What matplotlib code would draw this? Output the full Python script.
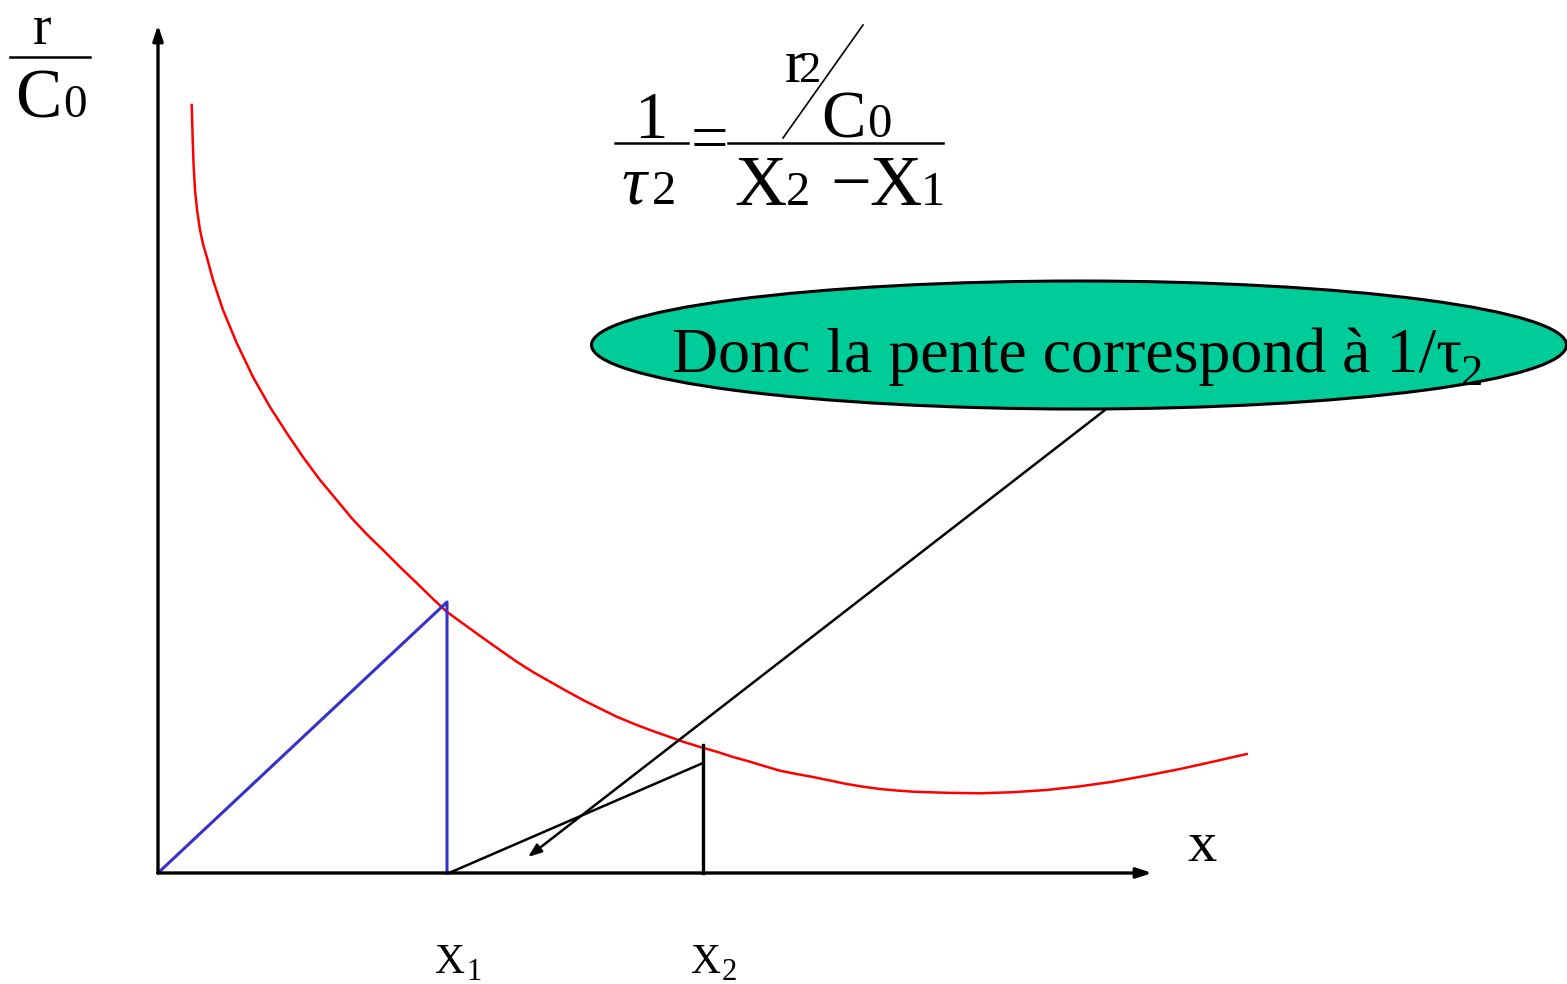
import matplotlib
matplotlib.use("Agg")
import matplotlib.pyplot as plt
from matplotlib.patches import Ellipse

W, H = 1567, 984

# red curve r/C0 vs X (px)
curve_x = [191.7, 192.2, 192.7, 193.6, 195, 197.2, 200, 203, 206.7, 213, 223, 236.7, 253, 270,
           286.7, 303, 320, 336.7, 352, 367, 383, 400, 416.7, 431.5, 446.7, 465, 483, 500,
           516.7, 533, 550, 566.5, 583, 600, 616.7, 633, 650, 667, 683, 700, 716.7, 733,
           750, 765, 780, 796.5, 813, 830, 846.7, 863, 880, 896.5, 913, 946.7, 980, 1013,
           1046.7, 1080, 1113, 1146.5, 1180, 1213, 1246.7]
curve_y = [105, 122, 140, 165, 190, 211, 230, 244, 256.7, 280, 310, 343, 377, 407,
           433, 457, 480, 500, 518.5, 534.5, 550, 567, 583, 597.5, 611.7, 625, 638, 650,
           661.7, 672, 681.7, 691, 700, 708.5, 716.7, 723.5, 730, 736, 741.7, 747, 751.7, 757,
           761.7, 766.3, 770.7, 774, 777, 780.5, 784, 786.7, 789, 790.5, 791.7, 792.8, 793.3, 792.2,
           790, 786.3, 781.7, 775.6, 769, 761.7, 754]

origin = (158, 873)
x_axis_end = 1152
y_axis_end = 25
X1 = 447
X2 = 703
blue_top = 602
black_top = 745
black_slope_end = 763
callout_start = (1105, 410)
callout_end = (528, 857)

serif = "Liberation Serif"

fig = plt.figure(figsize=(W / 100, H / 100), dpi=100)
ax = fig.add_axes([0, 0, 1, 1])
ax.set_xlim(0, W)
ax.set_ylim(H, 0)
ax.axis("off")

# axes arrows
ax.annotate("", xy=(x_axis_end, origin[1]), xytext=origin,
            arrowprops=dict(arrowstyle="-|>,head_length=0.9,head_width=0.3", color="black",
                            lw=2.4, shrinkA=0, shrinkB=0))
ax.annotate("", xy=(origin[0], y_axis_end), xytext=origin,
            arrowprops=dict(arrowstyle="-|>,head_length=0.9,head_width=0.3", color="black",
                            lw=2.4, shrinkA=0, shrinkB=0))

# red curve
ax.plot(curve_x, curve_y, color="#FF0000", lw=1.8, solid_joinstyle="round")

# blue triangle
ax.plot([origin[0], X1, X1], [origin[1], blue_top, origin[1]], color="#3333CC", lw=2.2)

# black triangle
ax.plot([X1 + 2, X2], [origin[1], black_slope_end], color="black", lw=1.8)
ax.plot([X2, X2], [black_top, origin[1]], color="black", lw=2.4)

# ellipse callout
ell = Ellipse((1079, 345), 975, 128, facecolor="#00CC99", edgecolor="black", lw=2.2, zorder=3)
ax.add_patch(ell)
ax.text(1067, 372, "Donc la pente correspond à 1/τ", family=serif, fontsize=46,
        ha="center", va="baseline", zorder=4)
ax.text(1461, 385, "2", family=serif, fontsize=32, ha="left", va="baseline", zorder=4)

ax.annotate("", xy=callout_end, xytext=callout_start,
            arrowprops=dict(arrowstyle="-|>,head_length=0.8,head_width=0.3", color="black",
                            lw=1.8, shrinkA=0, shrinkB=0),
            zorder=5)

# y label r / C0
ax.plot([10, 90], [57, 57], color="black", lw=1.8)
ax.text(42, 44, "r", family=serif, fontsize=40, ha="center", va="baseline")
ax.text(15, 117, "C", family=serif, fontsize=50, ha="left", va="baseline")
ax.text(63, 117, "0", family=serif, fontsize=34, ha="left", va="baseline")

# x label
ax.text(1202, 861, "x", family=serif, fontsize=42, ha="center", va="baseline")

# X1, X2 labels
ax.text(434, 973, "X", family=serif, fontsize=30, ha="left", va="baseline")
ax.text(466, 980, "1", family=serif, fontsize=22, ha="left", va="baseline")
ax.text(690, 973, "X", family=serif, fontsize=30, ha="left", va="baseline")
ax.text(722, 980, "2", family=serif, fontsize=22, ha="left", va="baseline")

# formula 1/tau2 = (r2/C0)/(X2 - X1)
ax.plot([615, 688], [143, 143], color="black", lw=1.8)
ax.text(651, 138, "1", family=serif, fontsize=48, ha="center", va="baseline")
ax.text(621, 204, "τ", family=serif, style="italic", fontsize=50, ha="left", va="baseline")
ax.text(652, 204, "2", family=serif, fontsize=35, ha="left", va="baseline")
ax.text(709, 160, "=", family=serif, fontsize=48, ha="center", va="baseline")
ax.plot([728, 943], [143, 143], color="black", lw=1.8)
ax.plot([783, 863], [138, 25], color="black", lw=1.2)
ax.text(785, 82, "r", family=serif, fontsize=44, ha="left", va="baseline")
ax.text(799, 82, "2", family=serif, fontsize=32, ha="left", va="baseline")
ax.text(821, 137, "C", family=serif, fontsize=48, ha="left", va="baseline")
ax.text(867, 137, "0", family=serif, fontsize=35, ha="left", va="baseline")
ax.text(734, 205, "X", family=serif, fontsize=52, ha="left", va="baseline")
ax.text(786, 205, "2", family=serif, fontsize=35, ha="left", va="baseline")
ax.text(830, 205, "−", family=serif, fontsize=52, ha="left", va="baseline")
ax.text(869, 205, "X", family=serif, fontsize=52, ha="left", va="baseline")
ax.text(921, 205, "1", family=serif, fontsize=35, ha="left", va="baseline")

fig.savefig("out.png", dpi=100)
